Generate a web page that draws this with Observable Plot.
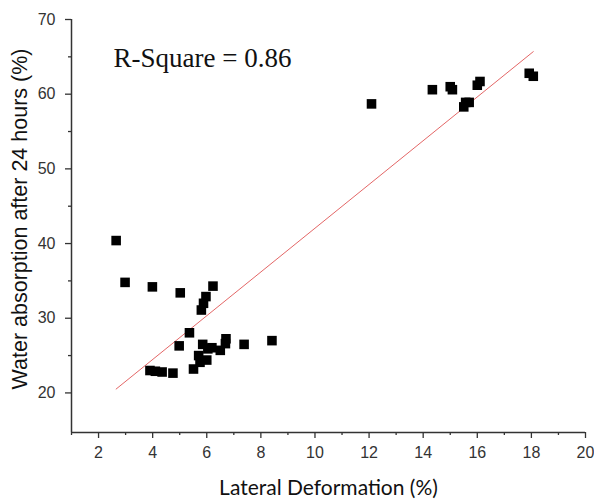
<!DOCTYPE html>
<html>
<head>
<meta charset="utf-8">
<script src="https://cdn.jsdelivr.net/npm/d3@7"></script>
<script src="https://cdn.jsdelivr.net/npm/@observablehq/plot@0.6"></script>
<style>
  html, body { margin: 0; padding: 0; background: #fff; }
  #chart { width: 594px; height: 502px; }
</style>
</head>
<body>
<div id="chart"></div>
<script>
// Lateral deformation (%) and water absorption after 24 hours (%)
const lateralDeformation = [
  2.65, 2.98, 3.99, 5.02, 6.23, 5.97, 5.88, 5.80, 5.36, 4.98,
  5.85, 6.04, 6.19, 6.50, 6.71, 6.69, 7.38, 8.41, 5.70, 6.00,
  5.75, 5.51, 3.90, 4.10, 4.35, 4.75,
  12.09, 14.34, 15.00, 15.08, 16.10, 16.00, 15.57, 15.70, 15.50, 17.92, 18.07
];
const waterAbsorption = [
  40.4, 34.8, 34.2, 33.4, 34.3, 32.9, 32.0, 31.1, 28.05, 26.3,
  26.5, 25.9, 26.05, 25.7, 27.25, 26.6, 26.5, 27.0, 25.0, 24.4,
  24.1, 23.2, 23.0, 22.9, 22.8, 22.65,
  58.7, 60.6, 61.0, 60.6, 61.7, 61.2, 58.9, 58.9, 58.3, 62.8, 62.4
];
const xMajorTicks = [2, 4, 6, 8, 10, 12, 14, 16, 18, 20];
const xMinorTicks = [1, 3, 5, 7, 9, 11, 13, 15, 17, 19];
const yMajorTicks = [20, 30, 40, 50, 60, 70];
const yMinorTicks = [25, 35, 45, 55, 65];
const annotation = ["R-Square = 0.86"];
const xLabel = ["Lateral Deformation (%)"];
const yLabel = ["Water absorption after 24 hours (%)"];

const data = lateralDeformation.map((x, i) => ({x, y: waterAbsorption[i]}));
const xDomain = [1, 20];
const yDomain = [14.7, 70];

const chart = Plot.plot({
  width: 594,
  height: 502,
  marginLeft: 71,
  marginRight: 9,
  marginTop: 19,
  marginBottom: 70,
  x: {domain: xDomain},
  y: {domain: yDomain},
  style: {fontFamily: "'Liberation Sans', Arial, sans-serif", fontSize: "16px", color: "#333", background: "#fff"},
  marks: [
    Plot.axisX({ticks: xMajorTicks, tickSize: 6, tickPadding: 8, label: null, stroke: "#333", strokeWidth: 1.3, fill: "#333", fontSize: 16}),
    Plot.axisX({ticks: xMinorTicks, tickSize: 3, text: null, label: null, stroke: "#333", strokeWidth: 1.3}),
    Plot.axisY({ticks: yMajorTicks, tickSize: 6, tickPadding: 10, label: null, stroke: "#333", strokeWidth: 1.3, fill: "#333", fontSize: 16}),
    Plot.axisY({ticks: yMinorTicks, tickSize: 3, text: null, label: null, stroke: "#333", strokeWidth: 1.3}),
    Plot.ruleX([xDomain[0]], {stroke: "#333", strokeWidth: 1.5}),
    Plot.ruleY([yDomain[0]], {stroke: "#333", strokeWidth: 1.5}),
    Plot.linearRegressionY(data, {x: "x", y: "y", stroke: "#e05555", strokeWidth: 0.9, ci: 0}),
    Plot.dot(data, {x: "x", y: "y", symbol: "square", fill: "#000", stroke: "none", r: 5.4}),
    Plot.text(annotation, {frameAnchor: "top-left", dx: 42, dy: 28, text: d => d, textAnchor: "start",
      fontFamily: "'Liberation Serif', 'Times New Roman', serif", fontSize: 27, fill: "#111"}),
    Plot.text(xLabel, {frameAnchor: "bottom", dy: 62, text: d => d, textAnchor: "middle",
      fontFamily: "Lato, 'Open Sans', sans-serif", fontSize: 21, fill: "#111"}),
    Plot.text(yLabel, {frameAnchor: "left", dx: -51, dy: -7, rotate: -90, text: d => d, textAnchor: "middle",
      fontFamily: "'Liberation Sans', Arial, sans-serif", fontSize: 21.5, fill: "#111"})
  ]
});
document.getElementById("chart").appendChild(chart);
</script>
</body>
</html>
